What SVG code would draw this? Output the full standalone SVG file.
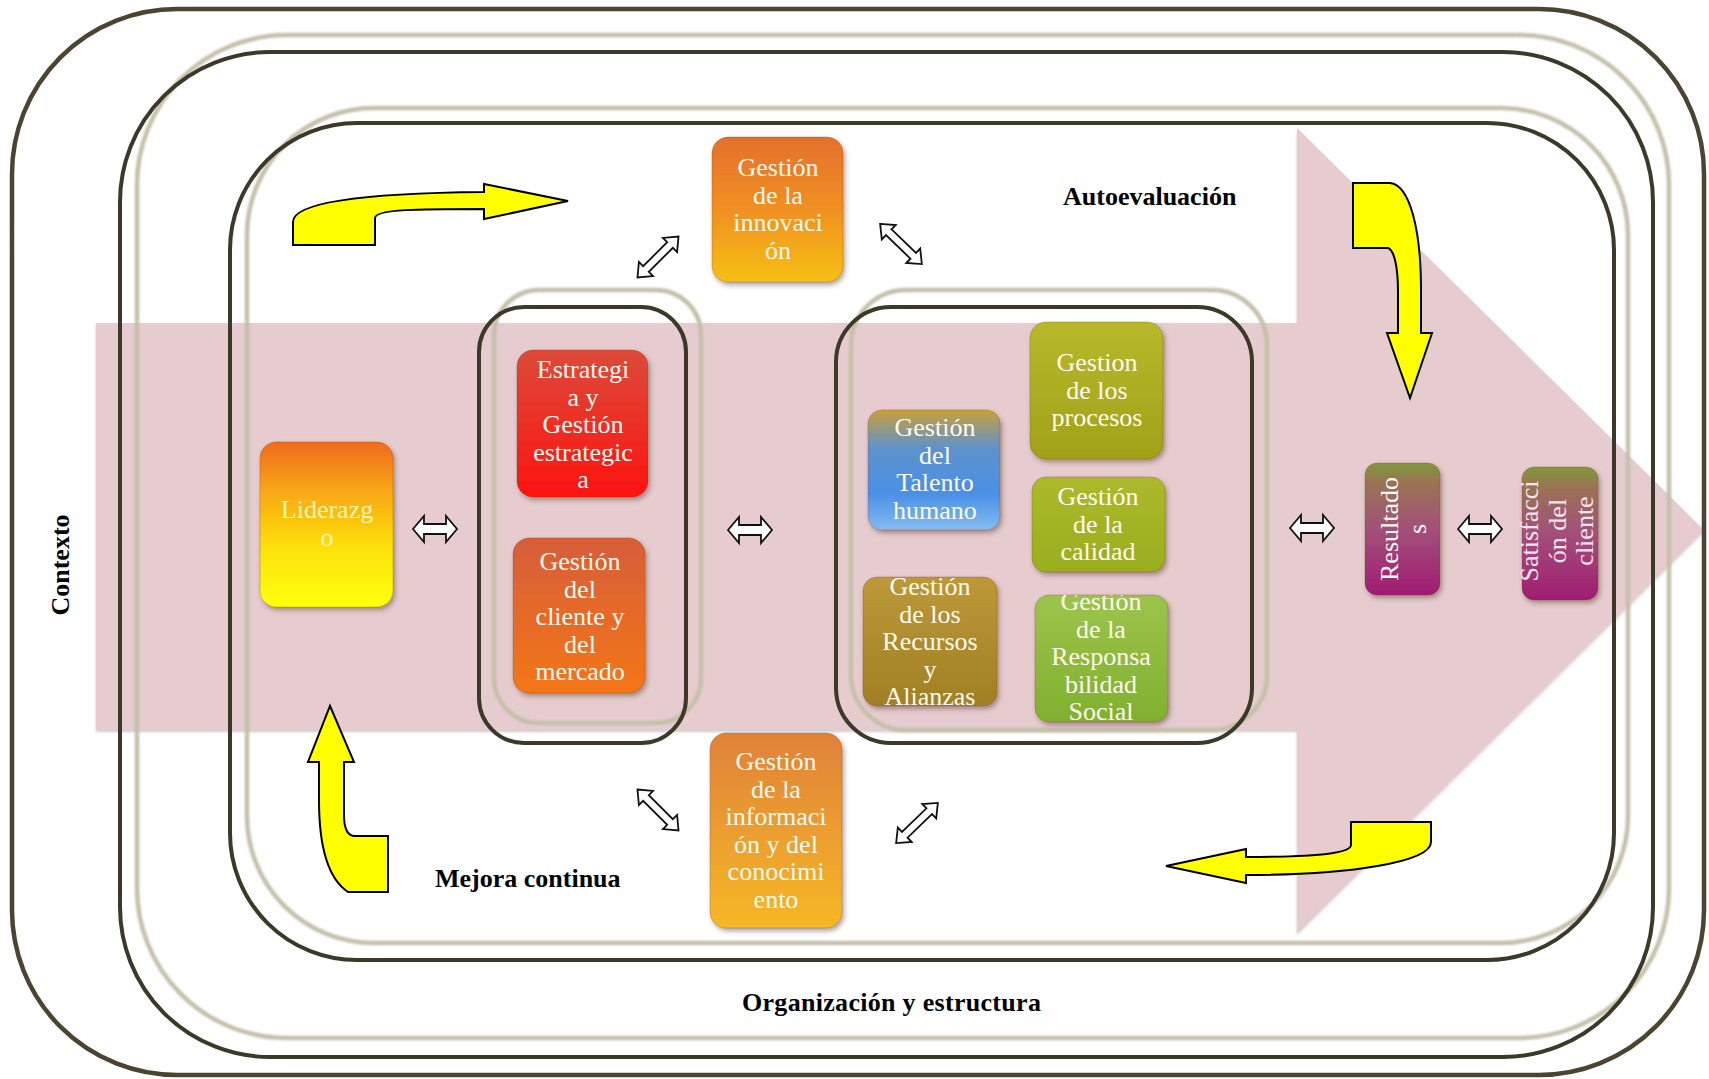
<svg xmlns="http://www.w3.org/2000/svg" width="1709" height="1079" viewBox="0 0 1709 1079">
  <style>
    .frame-dark { fill: none; stroke: #3d3929; stroke-width: 4; }
    .frame-light { fill: none; stroke: #c4c0a9; stroke-width: 4.5; filter: url(#soft); }
    .frame-outer { fill: none; stroke: #4b4430; stroke-width: 4.5; }
    .label { font-family: "Liberation Serif", "Times New Roman", serif; font-weight: bold; font-size: 26px; fill: #000; }
    .nt { font-family: "Liberation Serif", "Times New Roman", serif; font-size: 26px; fill: #fffaf0; text-anchor: middle; }
    .box { filter: url(#shadow); stroke: rgba(120,60,20,0.25); stroke-width: 1; }
    .dbl { fill: #fff; stroke: #111; stroke-width: 1.8; stroke-linejoin: miter; }
    .curve { fill: #ffff00; stroke: #000; stroke-width: 2; stroke-linejoin: miter; }
  </style>
  <defs>
    <filter id="soft" x="-5%" y="-5%" width="110%" height="110%">
      <feGaussianBlur stdDeviation="0.8"/>
    </filter>
    <filter id="shadow" x="-20%" y="-20%" width="140%" height="140%">
      <feDropShadow dx="2" dy="3" stdDeviation="2.5" flood-color="#503020" flood-opacity="0.45"/>
    </filter>
    <filter id="bandShadow" x="-5%" y="-5%" width="110%" height="110%">
      <feDropShadow dx="0" dy="2" stdDeviation="1.5" flood-color="#806868" flood-opacity="0.35"/>
    </filter>

    <linearGradient id="gLid" x1="0" y1="0" x2="0" y2="1">
      <stop offset="0" stop-color="#f06a20"/>
      <stop offset="0.3" stop-color="#f8a814"/>
      <stop offset="0.65" stop-color="#fce208"/>
      <stop offset="1" stop-color="#ffff10"/>
    </linearGradient>
    <linearGradient id="gEst" x1="0" y1="0" x2="0" y2="1">
      <stop offset="0" stop-color="#dc4a3a"/>
      <stop offset="1" stop-color="#fc1410"/>
    </linearGradient>
    <linearGradient id="gCli" x1="0" y1="0" x2="0" y2="1">
      <stop offset="0" stop-color="#d65e3a"/>
      <stop offset="1" stop-color="#f47618"/>
    </linearGradient>
    <linearGradient id="gInn" x1="0" y1="0" x2="0" y2="1">
      <stop offset="0" stop-color="#e4702e"/>
      <stop offset="0.5" stop-color="#f09022"/>
      <stop offset="1" stop-color="#f6c012"/>
    </linearGradient>
    <linearGradient id="gInf" x1="0" y1="0" x2="0" y2="1">
      <stop offset="0" stop-color="#e0823a"/>
      <stop offset="1" stop-color="#f6b826"/>
    </linearGradient>
    <linearGradient id="gTal" x1="0" y1="0" x2="0" y2="1">
      <stop offset="0" stop-color="#c8a03c"/>
      <stop offset="0.32" stop-color="#5e92cc"/>
      <stop offset="0.7" stop-color="#4a90e6"/>
      <stop offset="1" stop-color="#84bcf2"/>
    </linearGradient>
    <linearGradient id="gPro" x1="0" y1="0" x2="0" y2="1">
      <stop offset="0" stop-color="#b8b82c"/>
      <stop offset="1" stop-color="#a0a218"/>
    </linearGradient>
    <linearGradient id="gCal" x1="0" y1="0" x2="0" y2="1">
      <stop offset="0" stop-color="#acba2c"/>
      <stop offset="1" stop-color="#98ae1e"/>
    </linearGradient>
    <linearGradient id="gRec" x1="0" y1="0" x2="0" y2="1">
      <stop offset="0" stop-color="#bc9838"/>
      <stop offset="1" stop-color="#a08024"/>
    </linearGradient>
    <linearGradient id="gRes" x1="0" y1="0" x2="0" y2="1">
      <stop offset="0" stop-color="#9cc44c"/>
      <stop offset="1" stop-color="#80b02e"/>
    </linearGradient>
    <linearGradient id="gMag" x1="0" y1="0" x2="0" y2="1">
      <stop offset="0" stop-color="#7e9a3c"/>
      <stop offset="0.14" stop-color="#9a7452"/>
      <stop offset="0.5" stop-color="#a2507a"/>
      <stop offset="1" stop-color="#a01c72"/>
    </linearGradient>

    <clipPath id="cTal"><rect x="868" y="410" width="132" height="120" rx="14"/></clipPath>
    <clipPath id="cRec"><rect x="863" y="577" width="134" height="129" rx="14"/></clipPath>
    <clipPath id="cRes"><rect x="1035" y="595" width="133" height="127" rx="14"/></clipPath>

    <!-- outlined double arrows -->
    <path id="dblH" d="M-22,0 L-11,-13 L-11,-5 L11,-5 L11,-13 L22,0 L11,13 L11,5 L-11,5 L-11,13 Z"/>
    <path id="dblD" d="M-29,0 L-17,-10 L-17,-4 L17,-4 L17,-10 L29,0 L17,10 L17,4 L-17,4 L-17,10 Z"/>
  </defs>

  <rect width="1709" height="1079" fill="#ffffff"/>

  <!-- large pink flow arrow -->
  <polygon points="96,323 1297,323 1297,128 1704,530 1297,933 1297,730 96,730" fill="#e6cccf" filter="url(#bandShadow)"/>

  <!-- nested frames -->
  <g id="frames">
    <rect class="frame-outer" x="12" y="9" width="1692" height="1066" rx="165"/>
    <rect class="frame-light" x="137" y="35" width="1532" height="1003" rx="150"/>
    <rect class="frame-dark" x="120" y="52" width="1533" height="1005" rx="150"/>
    <rect class="frame-light" x="247" y="108" width="1381" height="835" rx="127"/>
    <rect class="frame-dark" x="230" y="123" width="1384" height="837" rx="127"/>
    <rect class="frame-light" x="494" y="290" width="207" height="433" rx="45"/>
    <rect class="frame-dark" x="479" y="307" width="207" height="436" rx="45"/>
    <rect class="frame-light" x="851" y="290" width="416" height="440" rx="55"/>
    <rect class="frame-dark" x="836" y="307" width="416" height="436" rx="55"/>
  </g>

  <!-- labels -->
  <text class="label" transform="translate(69,565) rotate(-90)" text-anchor="middle">Contexto</text>
  <text class="label" x="1063" y="205">Autoevaluación</text>
  <text class="label" x="435" y="887">Mejora continua</text>
  <text class="label" x="742" y="1011" letter-spacing="0.3">Organización y estructura</text>

  <!-- curved cycle arrows -->
  <g id="cycle">
    <path class="curve" d="M293,245 L293,222 C293,200 380,193 484,192 L484,184 L568,201 L484,219 L484,209 C420,209 375,209 375,218 L375,245 Z"/>
    <path class="curve" d="M1353,183 L1390,183 C1410,185 1421,230 1421,290 L1421,333 L1432,333 L1410,398 L1387,333 L1398,333 L1398,292 C1398,266 1394,250 1388,248 L1353,248 Z"/>
    <path class="curve" d="M1431,822 L1351,822 L1351,845 C1351,855 1300,857 1246,857 L1246,849 L1166,866 L1246,883 L1246,875 C1350,875 1431,862 1431,842 Z"/>
    <path class="curve" d="M388,892 L348,892 C330,880 319,850 319,800 L319,762 L308,762 L330,706 L354,762 L344,762 L344,815 C344,830 348,836 355,836 L388,836 Z"/>
  </g>

  <!-- connectors -->
  <g id="connectors">
    <use href="#dblH" class="dbl" transform="translate(435,529)"/>
    <use href="#dblH" class="dbl" transform="translate(750,530)"/>
    <use href="#dblH" class="dbl" transform="translate(1312,528)"/>
    <use href="#dblH" class="dbl" transform="translate(1480,529)"/>
    <use href="#dblD" class="dbl" transform="translate(658,257) rotate(-45)"/>
    <use href="#dblD" class="dbl" transform="translate(901,244) rotate(44)"/>
    <use href="#dblD" class="dbl" transform="translate(658,810) rotate(45)"/>
    <use href="#dblD" class="dbl" transform="translate(917,823) rotate(-44)"/>
  </g>

  <!-- nodes -->
  <g id="liderazgo">
    <rect class="box" x="260" y="442" width="133" height="165" rx="16" fill="url(#gLid)"/>
    <text class="nt" x="327" y="518" fill="#fff4b8" style="fill:#fff4b8"><tspan x="327">Liderazg</tspan><tspan x="327" dy="28">o</tspan></text>
  </g>

  <g id="estrategia">
    <rect class="box" x="517" y="350" width="131" height="147" rx="16" fill="url(#gEst)"/>
    <text class="nt" y="378"><tspan x="583">Estrategi</tspan><tspan x="583" dy="27.5">a y</tspan><tspan x="583" dy="27.5">Gestión</tspan><tspan x="583" dy="27.5">estrategic</tspan><tspan x="583" dy="27.5">a</tspan></text>
  </g>

  <g id="cliente-mercado">
    <rect class="box" x="513" y="538" width="132" height="155" rx="16" fill="url(#gCli)"/>
    <text class="nt" y="570"><tspan x="580">Gestión</tspan><tspan x="580" dy="27.5">del</tspan><tspan x="580" dy="27.5">cliente y</tspan><tspan x="580" dy="27.5">del</tspan><tspan x="580" dy="27.5">mercado</tspan></text>
  </g>

  <g id="innovacion">
    <rect class="box" x="712" y="137" width="131" height="145" rx="16" fill="url(#gInn)"/>
    <text class="nt" y="176"><tspan x="778">Gestión</tspan><tspan x="778" dy="27.6">de la</tspan><tspan x="778" dy="27.6">innovaci</tspan><tspan x="778" dy="27.6">ón</tspan></text>
  </g>

  <g id="informacion">
    <rect class="box" x="710" y="733" width="132" height="195" rx="16" fill="url(#gInf)"/>
    <text class="nt" y="770"><tspan x="776">Gestión</tspan><tspan x="776" dy="27.6">de la</tspan><tspan x="776" dy="27.6">informaci</tspan><tspan x="776" dy="27.6">ón y del</tspan><tspan x="776" dy="27.6">conocimi</tspan><tspan x="776" dy="27.6">ento</tspan></text>
  </g>

  <g id="talento">
    <rect class="box" x="868" y="410" width="132" height="120" rx="14" fill="url(#gTal)"/>
    <text class="nt" y="436" clip-path="url(#cTal)"><tspan x="935">Gestión</tspan><tspan x="935" dy="27.5">del</tspan><tspan x="935" dy="27.5">Talento</tspan><tspan x="935" dy="27.5">humano</tspan></text>
  </g>

  <g id="procesos">
    <rect class="box" x="1030" y="322" width="133" height="137" rx="16" fill="url(#gPro)"/>
    <text class="nt" y="371"><tspan x="1097">Gestion</tspan><tspan x="1097" dy="27.5">de los</tspan><tspan x="1097" dy="27.5">procesos</tspan></text>
  </g>

  <g id="calidad">
    <rect class="box" x="1032" y="477" width="133" height="95" rx="14" fill="url(#gCal)"/>
    <text class="nt" y="505"><tspan x="1098">Gestión</tspan><tspan x="1098" dy="27.5">de la</tspan><tspan x="1098" dy="27.5">calidad</tspan></text>
  </g>

  <g id="recursos">
    <rect class="box" x="863" y="577" width="134" height="129" rx="14" fill="url(#gRec)"/>
    <text class="nt" y="595" clip-path="url(#cRec)"><tspan x="930">Gestión</tspan><tspan x="930" dy="27.5">de los</tspan><tspan x="930" dy="27.5">Recursos</tspan><tspan x="930" dy="27.5">y</tspan><tspan x="930" dy="27.5">Alianzas</tspan></text>
  </g>

  <g id="responsabilidad">
    <rect class="box" x="1035" y="595" width="133" height="127" rx="14" fill="url(#gRes)"/>
    <text class="nt" y="610" clip-path="url(#cRes)"><tspan x="1101">Gestión</tspan><tspan x="1101" dy="27.6">de la</tspan><tspan x="1101" dy="27.6">Responsa</tspan><tspan x="1101" dy="27.6">bilidad</tspan><tspan x="1101" dy="27.6">Social</tspan></text>
  </g>

  <g id="resultados">
    <rect class="box" x="1365" y="463" width="75" height="132" rx="12" fill="url(#gMag)"/>
    <text class="nt" transform="translate(1402,529) rotate(-90)" y="-4"><tspan x="0">Resultado</tspan><tspan x="0" dy="27.5">s</tspan></text>
  </g>

  <g id="satisfaccion">
    <rect class="box" x="1522" y="467" width="76" height="133" rx="12" fill="url(#gMag)"/>
    <text class="nt" transform="translate(1560,531) rotate(-90)" y="-22" style="fill:#f8e4f0"><tspan x="0">Satisfacci</tspan><tspan x="0" dy="27.5">ón del</tspan><tspan x="0" dy="27.5">cliente</tspan></text>
  </g>
</svg>
